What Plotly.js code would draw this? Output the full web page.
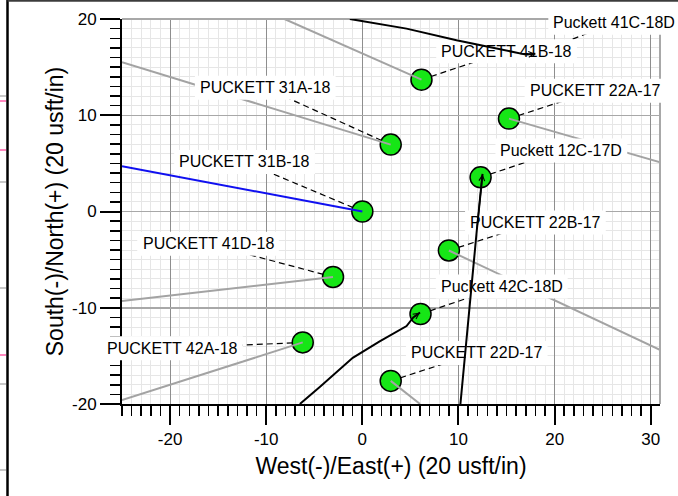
<!DOCTYPE html>
<html><head><meta charset="utf-8">
<script src="https://cdn.plot.ly/plotly-3.0.1.min.js"></script>
<style>html,body{margin:0;padding:0;background:#fff;overflow:hidden}</style>
</head><body><div id="chart" style="width:678px;height:496px"></div>
<script>
// ---------------- data (units = usft on the 20 usft/in grid) -------------
const wellNames = ['PUCKETT 41B-18','PUCKETT 31A-18','PUCKETT 31B-18','PUCKETT 22A-17','Puckett 12C-17D',
                   'PUCKETT 22B-17','PUCKETT 41D-18','Puckett 42C-18D','PUCKETT 42A-18','PUCKETT 22D-17'];
const wellX = [6.15, 2.95, 0.0, 15.25, 12.3, 9.0, -3.05, 6.05, -6.2, 2.95];
const wellY = [13.7, 6.95, 0.0, 9.65, 3.55, -4.05, -6.8, -10.65, -13.6, -17.6];

// grey laterals: start at the well circle, end points below
const lateralWells = ['PUCKETT 41B-18','PUCKETT 31A-18','PUCKETT 22A-17','PUCKETT 22B-17','PUCKETT 41D-18','PUCKETT 42A-18','PUCKETT 22D-17'];
const lateralEndX = [-8.1, -25.0, 31.0, 31.0, -25.0, -25.0, 6.0];
const lateralEndY = [20.0, 15.5, 5.1, -14.4, -9.3, -19.6, -20.0];
// blue lateral
const blueWell = 'PUCKETT 31B-18';
const blueEndX = [-25.0];
const blueEndY = [4.7];

// black directional well paths
const path12C_x = [10.2, 11.9, 12.5];
const path12C_y = [-20.0, -2.0, 3.9];
const path42C_x = [-6.5, -4.4, -1.0, 1.8, 4.6, 5.3, 6.0];
const path42C_y = [-20.0, -18.2, -15.2, -13.5, -11.9, -11.0, -10.5];
const path41C_x = [-1.3, 4.6, 9.8, 13.2, 17.0, 18.0];
const path41C_y = [20.0, 19.0, 17.8, 17.1, 16.3, 16.4];

// axis ticks
const xTickVals = [-20, -10, 0, 10, 20, 30];
const xTickText = ['-20', '-10', '0', '10', '20', '30'];
const yTickVals = [-20, -10, 0, 10, 20];
const yTickText = ['-20', '-10', '0', '10', '20'];

const xTitle = 'West(-)/East(+) (20 usft/in)';
const yTitle = 'South(-)/North(+) (20 usft/in)';

// ---------------- layout (label placement) ----------------
const labelPos = {
  'Puckett 41C-18D': [26.2, 19.6],
  'PUCKETT 41B-18': [15.0, 16.65],
  'PUCKETT 31A-18': [-10.1, 12.85],
  'PUCKETT 31B-18': [-12.25, 5.15],
  'PUCKETT 22A-17': [24.2, 12.55],
  'Puckett 12C-17D': [20.7, 6.35],
  'PUCKETT 22B-17': [18.0, -1.15],
  'PUCKETT 41D-18': [-16.05, -3.35],
  'Puckett 42C-18D': [14.5, -7.8],
  'PUCKETT 42A-18': [-19.75, -14.2],
  'PUCKETT 22D-17': [11.9, -14.7]
};

const W = 678, H = 496, ML = 122, MR = 18, MT = 19, MB = 92;
const XR = [-25, 30.96], YR = [-20, 20];
const PW = W - ML - MR, PH = H - MT - MB;
const FONT = '"Liberation Sans", Arial, sans-serif';
const LABEL_SIZE = 16;

function pxToPaperX(px){ return (px - ML) / PW; }
function pxToPaperY(py){ return (H - MB - py) / PH; }
function dataToPaperX(x){ return (x - XR[0]) / (XR[1] - XR[0]); }
function dataToPaperY(y){ return (y - YR[0]) / (YR[1] - YR[0]); }
const ctx = document.createElement('canvas').getContext('2d');
ctx.font = LABEL_SIZE + 'px ' + FONT;
function textW(t){ return ctx.measureText(t).width; }

const idx = n => wellNames.indexOf(n);

// anchors for leaders
const anchors = {};
wellNames.forEach((n,i) => anchors[n] = [wellX[i], wellY[i]]);
anchors['Puckett 41C-18D'] = [path41C_x[path41C_x.length-1], path41C_y[path41C_y.length-1]];

// leader dashed lines
const ldX = [], ldY = [];
Object.keys(labelPos).forEach(n => {
  ldX.push(anchors[n][0], labelPos[n][0], null);
  ldY.push(anchors[n][1], labelPos[n][1], null);
});

// grey laterals
const lgX = [], lgY = [];
lateralWells.forEach((n,k) => {
  const i = idx(n);
  lgX.push(wellX[i], lateralEndX[k], null);
  lgY.push(wellY[i], lateralEndY[k], null);
});
const bi = idx(blueWell);

const traces = [
  {x: ldX, y: ldY, mode: 'lines', line: {color: '#000', width: 1.2, dash: '6px,4px'}, hoverinfo: 'skip'},
  {x: wellX, y: wellY, mode: 'markers', marker: {size: 21, color: '#16e616', line: {color: '#000', width: 1.5}}, hoverinfo: 'skip'},
  {x: lgX, y: lgY, mode: 'lines', line: {color: '#a3a3a3', width: 2}, hoverinfo: 'skip'},
  {x: [wellX[bi], blueEndX[0]], y: [wellY[bi], blueEndY[0]], mode: 'lines', line: {color: '#1010f0', width: 2}, hoverinfo: 'skip'}
];

const shapes = [];
// outer frame remnants
shapes.push({type:'line', xref:'paper', yref:'paper', x0:pxToPaperX(7.5), x1:pxToPaperX(7.5), y0:pxToPaperY(0), y1:pxToPaperY(H), line:{color:'#000', width:2.5}, layer:'above'});
shapes.push({type:'line', xref:'paper', yref:'paper', x0:pxToPaperX(7.5), x1:pxToPaperX(W), y0:pxToPaperY(0.8), y1:pxToPaperY(0.8), line:{color:'#3c3c3c', width:2}, layer:'above'});
[[96,'#b4b4b4'],[101,'#ff5fa8'],[150,'#ff5fa8'],[182,'#b4b4b4'],[288,'#b4b4b4'],[355,'#ff5fa8'],[384,'#b4b4b4'],[470,'#b4b4b4']].forEach(([py,c]) => {
  shapes.push({type:'line', xref:'paper', yref:'paper', x0:pxToPaperX(0), x1:pxToPaperX(6), y0:pxToPaperY(py), y1:pxToPaperY(py), line:{color:c, width:1.5}, layer:'above'});
});
// top and right edge lines of plot
shapes.push({type:'line', xref:'paper', yref:'paper', x0:0, x1:1, y0:1, y1:1, line:{color:'#a8a8a8', width:2}, layer:'above'});
shapes.push({type:'line', xref:'paper', yref:'paper', x0:1, x1:1, y0:0, y1:1, line:{color:'#a8a8a8', width:2}, layer:'above'});
// white label boxes
Object.keys(labelPos).forEach(n => {
  const w = textW(n) + 10, h = 24;
  shapes.push({type:'rect', xref:'paper', yref:'paper', xsizemode:'pixel', ysizemode:'pixel',
    xanchor: dataToPaperX(labelPos[n][0]), yanchor: dataToPaperY(labelPos[n][1]),
    x0:-w/2, x1:w/2, y0:-h/2, y1:h/2, fillcolor:'#fff', line:{width:0}, layer:'above'});
});
// black directional well paths (above the label boxes)
function pathStr(xs, ys){ return xs.map((x,i)=> (i?'L':'M') + x + ',' + ys[i]).join(' '); }
[[path12C_x,path12C_y],[path42C_x,path42C_y],[path41C_x,path41C_y]].forEach(([xs,ys]) => {
  shapes.push({type:'path', xref:'x', yref:'y', path: pathStr(xs, ys), line:{color:'#000', width:2}, layer:'above'});
});

const annotations = [];
Object.keys(labelPos).forEach(n => {
  annotations.push({x: labelPos[n][0], y: labelPos[n][1], xref:'x', yref:'y', text: n, showarrow: false,
    xanchor:'center', yanchor:'middle', font:{family: FONT, size: LABEL_SIZE, color:'#000'}});
});
[[path12C_x,path12C_y],[path42C_x,path42C_y],[path41C_x,path41C_y]].forEach(([xs,ys]) => {
  const k = xs.length - 1;
  annotations.push({x: xs[k], y: ys[k], ax: xs[k-1], ay: ys[k-1], xref:'x', yref:'y', axref:'x', ayref:'y',
    text:'', showarrow:true, arrowhead:5, arrowsize:0.75, arrowwidth:1.5, arrowcolor:'#000', standoff:0, startstandoff:0});
});

const axisCommon = {
  showline: true, linecolor: '#000', linewidth: 2, mirror: false,
  ticks: 'outside', tickwidth: 2, tickcolor: '#000', zeroline: false,
  showgrid: true, gridwidth: 1, tickmode: 'array',
  tickfont: {family: FONT, size: 17, color: '#000'},
  fixedrange: true
};
const minorCommon = {tickmode: 'linear', tick0: 0, dtick: 1, ticks: 'outside', ticklen: 10, tickwidth: 1.5, tickcolor: '#000',
                     showgrid: true, gridcolor: '#e6e6e6', gridwidth: 1};
const layout = {
  width: W, height: H,
  margin: {l: ML, r: MR, t: MT, b: MB, pad: 0},
  paper_bgcolor: '#fff', plot_bgcolor: '#fff',
  showlegend: false,
  xaxis: Object.assign({}, axisCommon, {
    range: XR, ticklen: 19, gridcolor: '#8e8e8e', tickvals: xTickVals, ticktext: xTickText,
    minor: minorCommon,
    title: {text: xTitle, font: {family: FONT, size: 23, color: '#000'}, standoff: 9}
  }),
  yaxis: Object.assign({}, axisCommon, {
    range: YR, ticklen: 20, gridcolor: '#a8a8a8', gridwidth: 1.5, tickvals: yTickVals, ticktext: yTickText,
    minor: minorCommon,
    title: {text: yTitle, font: {family: FONT, size: 23, color: '#000'}, standoff: 2}
  }),
  shapes: shapes,
  annotations: annotations
};
Plotly.newPlot('chart', traces, layout, {staticPlot: true, displayModeBar: false});
</script>
</body></html>
